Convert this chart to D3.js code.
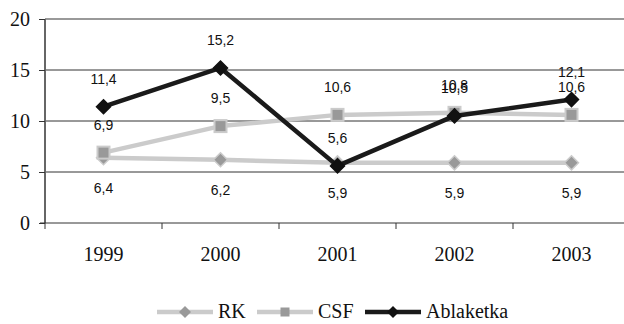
<!DOCTYPE html>
<html><head><meta charset="utf-8">
<script src="https://cdn.jsdelivr.net/npm/d3@7"></script>
<style>body{margin:0;background:#fff}</style>
</head><body>
<script>
const years = ["1999","2000","2001","2002","2003"];
const rk = [6.4, 6.2, 5.9, 5.9, 5.9];
const csf = [6.9, 9.5, 10.6, 10.8, 10.6];
const ablaketka = [11.4, 15.2, 5.6, 10.5, 12.1];
const yTicks = [0,5,10,15,20];
const seriesNames = ["RK","CSF","Ablaketka"];

const W=624,H=324;
const svg=d3.select("body").append("svg").attr("width",W).attr("height",H);
const x=d3.scaleBand().domain(years).range([45,630]);
const y=d3.scaleLinear().domain([0,20]).range([223,19]);
const fmt=v=>String(v.toFixed(1)).replace(".",",");

// gridlines
svg.append("g").selectAll("line").data(yTicks.slice(1,4)).join("line")
 .attr("x1",45).attr("x2",W).attr("y1",d=>y(d)).attr("y2",d=>y(d))
 .attr("stroke","#333").attr("stroke-width",1);
svg.append("line").attr("x1",45).attr("x2",W).attr("y1",y(20)).attr("y2",y(20))
 .attr("stroke","#999").attr("stroke-width",2);

// y axis
const ya=svg.append("g").attr("transform","translate(45,0)")
 .call(d3.axisLeft(y).tickValues(yTicks).tickSize(6).tickPadding(9));
ya.select(".domain").attr("stroke","#666").attr("stroke-width",2).attr("d","M0,223V19");
ya.selectAll("line").attr("stroke","#333");
ya.selectAll("text").attr("font-family","'Liberation Serif',serif").attr("font-size",20).attr("fill","#111");

// x axis
const xa=svg.append("g").attr("transform","translate(0,223)")
 .call(d3.axisBottom(x).tickSize(0).tickPadding(24));
xa.select(".domain").attr("stroke","#333").attr("d","M40,0H"+W);
xa.selectAll("text").attr("font-family","'Liberation Serif',serif").attr("font-size",20).attr("fill","#111");
xa.selectAll(".b").data(years.slice(1)).join("line")
 .attr("x1",d=>x(d)).attr("x2",d=>x(d)).attr("y1",0).attr("y2",6).attr("stroke","#333");
xa.append("line").attr("x1",45).attr("x2",45).attr("y1",0).attr("y2",6).attr("stroke","#333");

const cx=d=>x(d)+x.bandwidth()/2;
const line=d3.line().x((d,i)=>cx(years[i])).y(d=>y(d));

function drawSeries(vals,stroke,marker,fill,mstroke,labelOff){
  svg.append("path").datum(vals).attr("d",line).attr("fill","none")
   .attr("stroke",stroke).attr("stroke-width",4.5).attr("stroke-linejoin","round");
  const g=svg.append("g");
  vals.forEach((v,i)=>{
    const px=cx(years[i]),py=y(v);
    if(marker==="diamond"){
      g.append("path").attr("d",`M${px},${py-7}L${px+7},${py}L${px},${py+7}L${px-7},${py}Z`)
       .attr("fill",fill).attr("stroke",mstroke).attr("stroke-width",1.5);
    } else {
      g.append("rect").attr("x",px-6).attr("y",py-6).attr("width",12).attr("height",12)
       .attr("fill",fill).attr("stroke",mstroke).attr("stroke-width",2);
    }
  });
  return vals.map((v,i)=>({px:cx(years[i]),py:y(v)+labelOff,t:fmt(v)}));
}
const l1=drawSeries(rk,"#cbcbcb","diamond","#999","#cbcbcb",35);
const l2=drawSeries(csf,"#cbcbcb","square","#999","#cbcbcb",-23);
const l3=drawSeries(ablaketka,"#1a1a1a","diamond","#111","#111",-23);
svg.append("g").selectAll("text").data([...l1,...l2,...l3]).join("text")
 .attr("x",d=>d.px).attr("y",d=>d.py).attr("text-anchor","middle")
 .attr("font-family","'Liberation Sans',Arial,sans-serif").attr("font-size",14).attr("fill","#111")
 .text(d=>d.t);

// legend
const lg=svg.append("g");
const items=[
 {name:seriesNames[0],x0:157,stroke:"#cbcbcb",marker:"diamond",fill:"#999"},
 {name:seriesNames[1],x0:257,stroke:"#cbcbcb",marker:"square",fill:"#999"},
 {name:seriesNames[2],x0:365,stroke:"#1a1a1a",marker:"diamond",fill:"#111"}];
const ly=312;
items.forEach(it=>{
  lg.append("line").attr("x1",it.x0).attr("x2",it.x0+56).attr("y1",ly).attr("y2",ly)
   .attr("stroke",it.stroke).attr("stroke-width",4.5);
  const mx=it.x0+28;
  if(it.marker==="diamond") lg.append("path").attr("d",`M${mx},${ly-6}L${mx+6},${ly}L${mx},${ly+6}L${mx-6},${ly}Z`).attr("fill",it.fill);
  else lg.append("rect").attr("x",mx-4.5).attr("y",ly-4.5).attr("width",9).attr("height",9).attr("fill",it.fill);
  lg.append("text").attr("x",it.x0+61).attr("y",318).attr("font-family","'Liberation Serif',serif")
   .attr("font-size",20).attr("fill","#111").text(it.name);
});
</script>
</body></html>
